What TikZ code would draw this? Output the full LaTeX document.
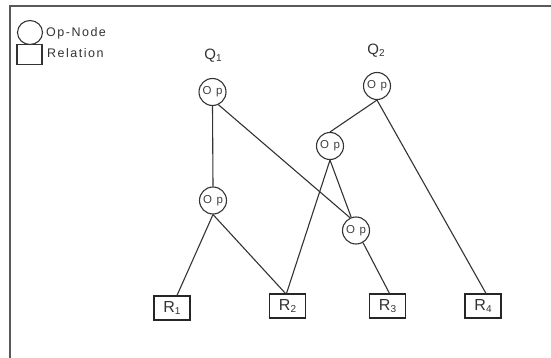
\documentclass[tikz,border=0pt]{standalone}
\usepackage{fontspec}
\usetikzlibrary{shapes.geometric}
\setmainfont{Liberation Sans}[LetterSpace=12]
\newcommand{\sbs}[1]{\raisebox{-0.15ex}{\fontsize{10}{10}\selectfont #1}}
\begin{document}
\begin{tikzpicture}[x=1pt,y=-1pt,
  op/.style={circle,draw=black!80,line width=1.1pt,minimum size=27pt,inner sep=0pt,text=black!75,font=\fontsize{11.5}{11.5}\selectfont},
  rel/.style={draw=black!85,line width=1.1pt,minimum width=36pt,minimum height=24pt,inner sep=0pt,text=black!80,font=\fontsize{16}{16}\selectfont},
  conn/.style={draw=black!80,line width=1.1pt},
  lbl/.style={font=\fontsize{12.5}{12.5}\selectfont,anchor=west,inner sep=0pt,text=black!80},
  qlbl/.style={font=\fontsize{15}{15}\selectfont,inner sep=0pt,text=black!80}]
\useasboundingbox (0,0) rectangle (551,358);
\draw[black!65,line width=2pt] (10,358) -- (10,6) -- (551,6);
% legend
\node[draw=black!80,line width=1.1pt,ellipse,minimum width=25pt,minimum height=24pt,inner sep=0pt] (legop) at (30,32.5) {};
\node[lbl] (legoptxt) at (46,33) {Op-Node};
\node[draw=black!80,line width=1.1pt,minimum width=25pt,minimum height=20pt,inner sep=0pt] (legrel) at (29.5,54.5) {};
\node[lbl] (legreltxt) at (47,53) {Relation};
% query labels
\node[qlbl] (q1) at (213,56) {Q\sbs{1}};
\node[qlbl] (q2) at (376,51) {Q\sbs{2}};
% op nodes
\node[op] (opq1) at (212.5,92) {O p};
\node[op] (opq2) at (377,86) {O p};
\node[op] (opm) at (330,146) {O p};
\node[op] (opl) at (213,200.5) {O p};
\node[op] (oprl) at (356,230.5) {O p};
% relations
\node[rel] (r1) at (172,308) {R\sbs{1}};
\node[rel] (r2) at (287.5,306) {R\sbs{2}};
\node[rel] (r3) at (387.5,306) {R\sbs{3}};
\node[rel] (r4) at (483,306) {R\sbs{4}};
% connectors
\draw[conn] (opq1.south) -- (opl.north);
\draw[conn] (opq1.-65) -- (oprl.115);
\draw[conn] (opq2.south) -- (opm.north);
\draw[conn] (opq2.south) -- ([xshift=3pt]r4.north);
\draw[conn] (opm.south) -- ([xshift=-1pt]r2.north);
\draw[conn] (opm.south) -- (oprl.110);
\draw[conn] (opl.south) -- ([xshift=5pt]r1.north);
\draw[conn] (opl.south) -- ([xshift=-2pt]r2.north);
\draw[conn] (oprl.-60) -- ([xshift=2pt]r3.north);
\end{tikzpicture}
\end{document}
